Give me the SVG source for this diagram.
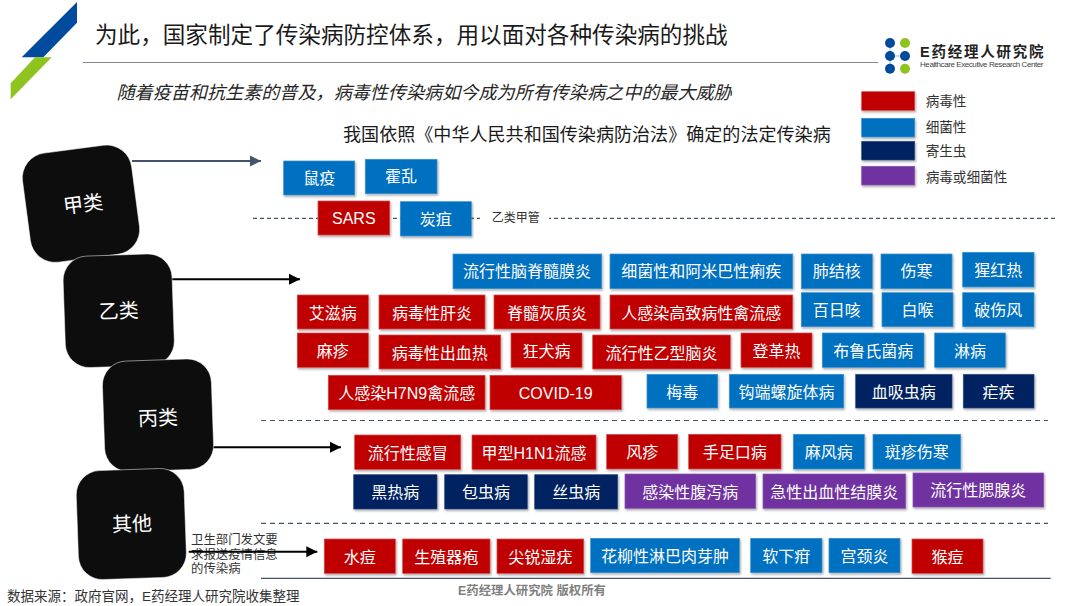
<svg xmlns="http://www.w3.org/2000/svg" width="1080" height="606" viewBox="0 0 1080 606">
<style>
text{font-family:"Liberation Sans","Noto Sans CJK SC",sans-serif;dominant-baseline:central}
.b{stroke-width:.7;filter:url(#sh)}
.r{fill:#c00000;stroke:#d24a4a}
.u{fill:#0070c0;stroke:#3d90cc}
.n{fill:#002060;stroke:#334d80}
.p{fill:#7030a0;stroke:#8a55b0}
.t{fill:#fff;font-size:16px;text-anchor:middle}
.k{fill:#0d0d0d;stroke:#fff;stroke-width:.5}
.kt{fill:#fff;font-size:20px;text-anchor:middle}
.d{fill:none;stroke:#44546a;stroke-width:1.2}
.a{fill:none;stroke:#000;stroke-width:2}
.lg{fill:#333;font-size:13.6px}
.dot1{fill:#004b9e}.dot2{fill:#8fc31f}
</style>
<defs>
<filter id="sh" x="-10%" y="-15%" width="125%" height="140%"><feDropShadow dx="1" dy="1.5" stdDeviation="1" flood-color="#000" flood-opacity=".35"/></filter>
<marker id="ab" markerUnits="userSpaceOnUse" markerWidth="12" markerHeight="12" refX="11" refY="6" orient="auto"><path d="M0 .5L11 6L0 11.5z" fill="#000"/></marker>
<marker id="ag" markerUnits="userSpaceOnUse" markerWidth="12" markerHeight="12" refX="11" refY="6" orient="auto"><path d="M0 .5L11 6L0 11.5z" fill="#44546a"/></marker>
</defs>
<rect width="1080" height="606" fill="#fff"/>

<g id="brand-slash">
<polygon points="77,2 77,22.7 43.3,57.3 21.7,57.3" fill="#004b9e"/>
<polygon points="51.7,57.3 10.7,99.3 10.7,83.3 35,57.3" fill="#8fc31f"/>
</g>
<text x="95" y="35" font-size="22.6" fill="#1a1a1a">为此，国家制定了传染病防控体系，用以面对各种传染病的挑战</text>
<line x1="83" y1="62.5" x2="878" y2="62.5" stroke="#7f8690" stroke-width="1"/>
<text x="116.5" y="93" font-size="18.1" font-style="italic" fill="#262626">随着疫苗和抗生素的普及，病毒性传染病如今成为所有传染病之中的最大威胁</text>
<text x="343" y="135" font-size="18.07" fill="#1a1a1a">我国依照《中华人民共和国传染病防治法》确定的法定传染病</text>

<g id="logo">
<path d="M890 43V68.7M890 56H905" stroke="#9db8d8" stroke-width="1" fill="none"/>
<circle class="dot1" cx="890" cy="43" r="5"/><circle class="dot1" cx="890" cy="56" r="5"/><circle class="dot1" cx="890" cy="68.7" r="5"/><circle class="dot1" cx="905" cy="56" r="5"/>
<circle class="dot2" cx="905" cy="43" r="5"/><circle class="dot2" cx="905" cy="68.7" r="5"/>
<text x="920" y="52.3" font-size="14.5" font-weight="bold" fill="#222" textLength="123.5">E药经理人研究院</text>
<text x="920" y="64" font-size="8" fill="#444" textLength="123.5">Healthcare Executive Research Center</text>
</g>

<g id="legend">
<rect class="b r" x="861.7" y="91.7" width="53" height="18.6"/><text class="lg" x="925.7" y="101">病毒性</text>
<rect class="b u" x="861.7" y="118.3" width="53" height="18.7"/><text class="lg" x="925.7" y="127.5">细菌性</text>
<rect class="b n" x="861.7" y="141.3" width="53" height="18.7"/><text class="lg" x="925.7" y="151.5">寄生虫</text>
<rect class="b p" x="861.7" y="166.3" width="53" height="18.7"/><text class="lg" x="925.7" y="177">病毒或细菌性</text>
</g>

<text id="note" font-size="12.4" fill="#333"><tspan x="191" y="539.5">卫生部门发文要</tspan><tspan x="191" y="554.5">求报送疫情信息</tspan><tspan x="191" y="569">的传染病</tspan></text>

<g id="connectors">
<line class="d" x1="253" y1="218.3" x2="1055" y2="218.3" stroke-dasharray="4 3"/>
<rect x="480" y="210" width="69" height="16" fill="#fff"/>
<line class="d" x1="261" y1="420.5" x2="1048" y2="420.5" stroke-dasharray="5 4"/>
<line class="d" x1="261" y1="523.3" x2="1048" y2="523.3" stroke-dasharray="5 4"/>
<line x1="261" y1="578.3" x2="1050.7" y2="578.3" stroke="#44546a" stroke-width="1.2"/>
<line x1="132" y1="161" x2="261" y2="161" stroke="#44546a" stroke-width="2" marker-end="url(#ag)"/>
<line class="a" x1="171" y1="279.3" x2="300" y2="279.3" marker-end="url(#ab)"/>
<line class="a" x1="213" y1="447.3" x2="341" y2="447.3" marker-end="url(#ab)"/>
<line class="a" x1="188.7" y1="551.7" x2="317.3" y2="551.7" marker-end="url(#ab)"/>
</g>
<text id="label-yilei" x="491.7" y="218" font-size="12" fill="#333">乙类甲管</text>

<g id="cat-jia" transform="rotate(-7.5 81 203.7)"><rect class="k" x="26" y="148.7" width="110" height="110" rx="25"/><text class="kt" x="83" y="204.5">甲类</text></g>
<g id="cat-yi" transform="rotate(-2 118.7 310.7)"><rect class="k" x="64.2" y="255" width="109" height="111.5" rx="24"/><text class="kt" x="118.7" y="311">乙类</text></g>
<g id="cat-bing" transform="rotate(-2 158 415)"><rect class="k" x="103.5" y="360" width="109" height="110.5" rx="24"/><text class="kt" x="158" y="418">丙类</text></g>
<g id="cat-other" transform="rotate(-2 131.3 524)"><rect class="k" x="77.3" y="469.5" width="108" height="109" rx="24"/><text class="kt" x="132" y="524">其他</text></g>

<g id="n-shuyi"><rect class="b u" x="283.7" y="161" width="71" height="34"/><text class="t" x="319.2" y="178.5">鼠疫</text></g>
<g id="n-huoluan"><rect class="b u" x="365.3" y="159.3" width="71.7" height="34.4"/><text class="t" x="401" y="176">霍乱</text></g>
<g id="n-sars"><rect class="b r" x="318" y="201" width="71.7" height="34"/><text class="t" x="353.8" y="218">SARS</text></g>
<g id="n-tanju"><rect class="b u" x="400.3" y="201.7" width="71" height="34.3"/><text class="t" x="435.8" y="219">炭疽</text></g>

<g id="n-b1"><rect class="b u" x="453" y="254" width="148.7" height="34.7"/><text class="t" x="527" y="271.5">流行性脑脊髓膜炎</text></g>
<g id="n-b2"><rect class="b u" x="610" y="254" width="182.7" height="34.7"/><text class="t" x="701.3" y="271.5">细菌性和阿米巴性痢疾</text></g>
<g id="n-b3"><rect class="b u" x="801.3" y="254" width="71" height="34.7"/><text class="t" x="836.8" y="271.5">肺结核</text></g>
<g id="n-b4"><rect class="b u" x="881" y="254" width="71" height="34.7"/><text class="t" x="916.5" y="271.5">伤寒</text></g>
<g id="n-b5"><rect class="b u" x="962.7" y="252.3" width="71.3" height="34.7"/><text class="t" x="998.3" y="270">猩红热</text></g>

<g id="n-c1"><rect class="b r" x="297.3" y="295" width="71" height="34"/><text class="t" x="332.8" y="313">艾滋病</text></g>
<g id="n-c2"><rect class="b r" x="379" y="295" width="106" height="34"/><text class="t" x="432" y="313">病毒性肝炎</text></g>
<g id="n-c3"><rect class="b r" x="494" y="295" width="106" height="34"/><text class="t" x="547" y="313">脊髓灰质炎</text></g>
<g id="n-c4"><rect class="b r" x="610" y="295" width="182.7" height="34"/><text class="t" x="701.3" y="313">人感染高致病性禽流感</text></g>
<g id="n-c5"><rect class="b u" x="801.3" y="292.7" width="71" height="34"/><text class="t" x="836.8" y="310">百日咳</text></g>
<g id="n-c6"><rect class="b u" x="882" y="292.7" width="71" height="34"/><text class="t" x="917.5" y="310">白喉</text></g>
<g id="n-c7"><rect class="b u" x="962.7" y="292.7" width="71.3" height="34"/><text class="t" x="998.3" y="310">破伤风</text></g>

<g id="n-d1"><rect class="b r" x="297.3" y="333" width="71" height="34.3"/><text class="t" x="332.8" y="351">麻疹</text></g>
<g id="n-d2"><rect class="b r" x="379" y="335" width="121.7" height="34"/><text class="t" x="439.8" y="353">病毒性出血热</text></g>
<g id="n-d3"><rect class="b r" x="511" y="333" width="71" height="34.3"/><text class="t" x="546.5" y="351">狂犬病</text></g>
<g id="n-d4"><rect class="b r" x="592.7" y="335" width="137.6" height="34"/><text class="t" x="661.5" y="353">流行性乙型脑炎</text></g>
<g id="n-d5"><rect class="b r" x="741" y="333" width="71" height="34.3"/><text class="t" x="776.5" y="351">登革热</text></g>
<g id="n-d6"><rect class="b u" x="822.3" y="333" width="101.7" height="34.3"/><text class="t" x="873.2" y="351">布鲁氏菌病</text></g>
<g id="n-d7"><rect class="b u" x="934.7" y="333" width="70.6" height="34.3"/><text class="t" x="970" y="351">淋病</text></g>

<g id="n-e1"><rect class="b r" x="328.3" y="375.3" width="156.7" height="34.4"/><text class="t" x="406.7" y="393">人感染H7N9禽流感</text></g>
<g id="n-e2"><rect class="b r" x="490" y="375.3" width="131.3" height="34.4"/><text class="t" x="555.7" y="393">COVID-19</text></g>
<g id="n-e3"><rect class="b u" x="647" y="374.3" width="70.7" height="33.7"/><text class="t" x="682.3" y="392">梅毒</text></g>
<g id="n-e4"><rect class="b u" x="729.3" y="374.3" width="114.4" height="33.7"/><text class="t" x="786.5" y="392">钩端螺旋体病</text></g>
<g id="n-e5"><rect class="b n" x="855.7" y="374.3" width="96.3" height="33.7"/><text class="t" x="903.8" y="392">血吸虫病</text></g>
<g id="n-e6"><rect class="b n" x="963.3" y="374.3" width="70.7" height="33.7"/><text class="t" x="998.6" y="392">疟疾</text></g>

<g id="n-f1"><rect class="b r" x="354.7" y="435" width="106" height="34.3"/><text class="t" x="407.7" y="453">流行性感冒</text></g>
<g id="n-f2"><rect class="b r" x="472" y="435" width="124" height="34.3"/><text class="t" x="534" y="453">甲型H1N1流感</text></g>
<g id="n-f3"><rect class="b r" x="606.7" y="434.5" width="71" height="34.5"/><text class="t" x="642.2" y="452.5">风疹</text></g>
<g id="n-f4"><rect class="b r" x="688.7" y="434.3" width="92.3" height="34.7"/><text class="t" x="734.8" y="452.5">手足口病</text></g>
<g id="n-f5"><rect class="b u" x="793.3" y="434.3" width="71" height="34.7"/><text class="t" x="828.8" y="452.5">麻风病</text></g>
<g id="n-f6"><rect class="b u" x="873" y="434.3" width="87.7" height="34.7"/><text class="t" x="916.8" y="452.5">斑疹伤寒</text></g>

<g id="n-g1"><rect class="b n" x="353.7" y="474.7" width="83.3" height="34.3"/><text class="t" x="395.3" y="492.5">黑热病</text></g>
<g id="n-g2"><rect class="b n" x="444.7" y="474.7" width="82.6" height="34.3"/><text class="t" x="486" y="492.5">包虫病</text></g>
<g id="n-g3"><rect class="b n" x="534.7" y="474.7" width="83" height="34.3"/><text class="t" x="576.2" y="492.5">丝虫病</text></g>
<g id="n-g4"><rect class="b p" x="625" y="474" width="130.7" height="34.3"/><text class="t" x="690.3" y="492">感染性腹泻病</text></g>
<g id="n-g5"><rect class="b p" x="763" y="474" width="142.7" height="34.3"/><text class="t" x="834.3" y="492">急性出血性结膜炎</text></g>
<g id="n-g6"><rect class="b p" x="913" y="473" width="130.7" height="34"/><text class="t" x="978.3" y="490.5">流行性腮腺炎</text></g>

<g id="n-h1"><rect class="b r" x="324.3" y="539" width="71" height="34.3"/><text class="t" x="359.8" y="557">水痘</text></g>
<g id="n-h2"><rect class="b r" x="402.7" y="539" width="87.3" height="34.3"/><text class="t" x="446.3" y="557">生殖器疱</text></g>
<g id="n-h3"><rect class="b r" x="497" y="539" width="86.7" height="34.3"/><text class="t" x="540.3" y="557">尖锐湿疣</text></g>
<g id="n-h4"><rect class="b u" x="590.7" y="538.3" width="148.6" height="34.4"/><text class="t" x="665" y="556">花柳性淋巴肉芽肿</text></g>
<g id="n-h5"><rect class="b u" x="750.7" y="538.3" width="71.3" height="34.4"/><text class="t" x="786.3" y="556">软下疳</text></g>
<g id="n-h6"><rect class="b u" x="829" y="538.3" width="71" height="34.4"/><text class="t" x="864.5" y="556">宫颈炎</text></g>
<g id="n-h7"><rect class="b r" x="912" y="539" width="71" height="34.3"/><text class="t" x="947.5" y="557">猴痘</text></g>

<text id="source" x="7" y="596.5" font-size="13.5" fill="#333">数据来源：政府官网，E药经理人研究院收集整理</text>
<text id="copyright" x="458" y="590.5" font-size="12.4" font-weight="bold" fill="#7f7f7f">E药经理人研究院 版权所有</text>
</svg>
